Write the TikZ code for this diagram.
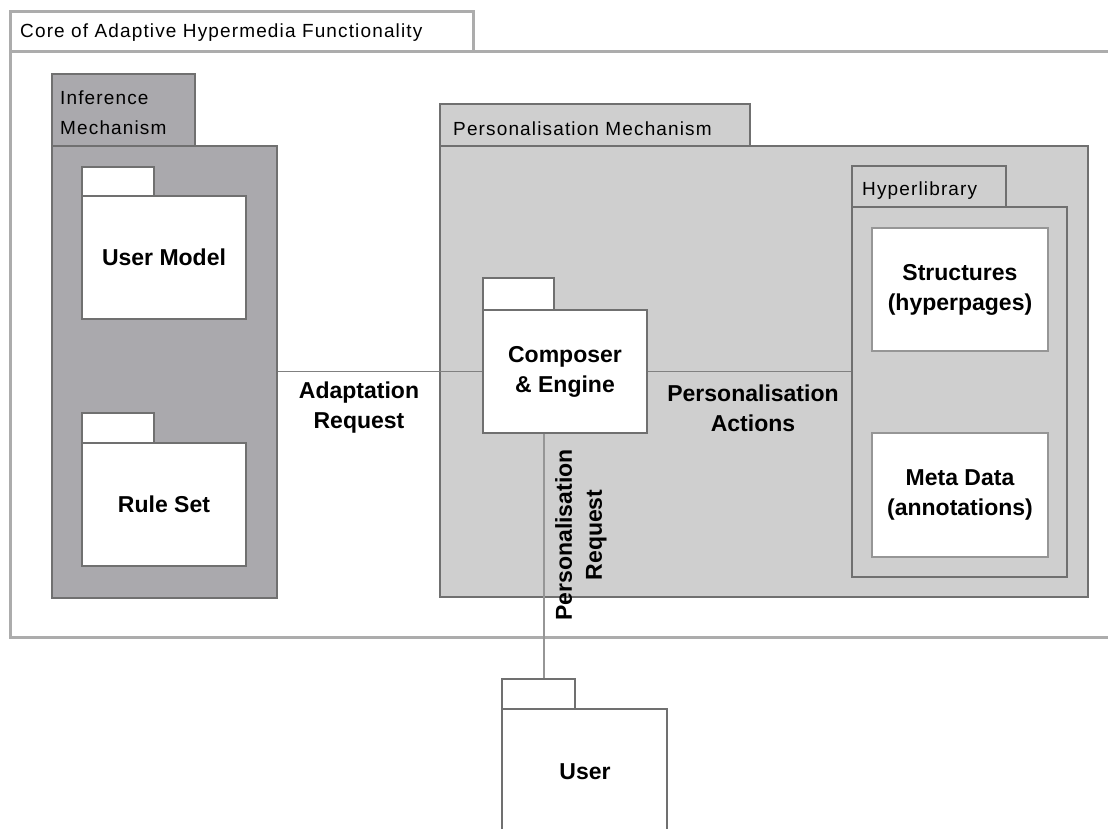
\documentclass[tikz,border=0pt]{standalone}
\usepackage{fontspec}
\setmainfont{Liberation Sans}
\newfontfamily\tabfont[LetterSpace=6]{Liberation Sans}
\usetikzlibrary{calc}
\definecolor{lineC}{RGB}{112,112,112}
\definecolor{outerC}{RGB}{172,172,172}
\definecolor{infC}{RGB}{170,169,173}
\definecolor{persC}{RGB}{207,207,207}
\definecolor{lightC}{RGB}{150,150,150}
\definecolor{connC}{RGB}{128,128,128}
\tikzset{
  pbox/.style={draw=lineC, line width=1.4pt, rectangle, inner sep=0pt, fill=white},
  innerbox/.style={draw=lightC, line width=2pt, rectangle, inner sep=0pt, fill=white},
  tablabel/.style={font=\tabfont\fontsize{19}{30}\selectfont, inner sep=0pt, align=left, anchor=west},
  biglabel/.style={font=\fontsize{23}{30}\selectfont\bfseries, inner sep=0pt, align=center},
  conn/.style={draw=connC, line width=1.6pt},
  vconn/.style={draw=lightC, line width=2.4pt},
}
\begin{document}
\begin{tikzpicture}[x=1pt,y=-1pt]
\clip (0,0) rectangle (1108,829);
\fill[white] (0,0) rectangle (1108,829);
% outer package
\node[draw=outerC, line width=3pt, rectangle, inner sep=0pt, minimum width=463pt, minimum height=40pt] (outt) at (241.5,32) {};
\node[draw=outerC, line width=3pt, rectangle, inner sep=0pt, minimum width=1120pt, minimum height=585pt] (outb) at (570,344.5) {};
\node[tablabel] (outl) at (20,33) {Core of Adaptive Hypermedia Functionality};
% inference mechanism
\node[pbox, fill=infC, minimum width=143pt, minimum height=72pt] (inft) at (123.5,110) {};
\node[pbox, fill=infC, minimum width=225pt, minimum height=452pt] (infb) at (164.5,372) {};
\node[tablabel] (infl) at (60,113) {Inference\\Mechanism};
% user model
\node[pbox, minimum width=72pt, minimum height=29pt] (umt) at (118,181.5) {};
\node[pbox, minimum width=164pt, minimum height=123pt] (umb) at (164,257.5) {};
\node[biglabel] (uml) at (umb) {User Model};
% rule set
\node[pbox, minimum width=72pt, minimum height=30pt] (rst) at (118,428) {};
\node[pbox, minimum width=164pt, minimum height=123pt] (rsb) at (164,504.5) {};
\node[biglabel] (rsl) at (rsb) {Rule Set};
% personalisation mechanism
\node[pbox, fill=persC, minimum width=310pt, minimum height=42pt] (pmt) at (595,125) {};
\node[pbox, fill=persC, minimum width=648pt, minimum height=451pt] (pmb) at (764,371.5) {};
\node[tablabel] (pml) at (453,129) {Personalisation Mechanism};
% hyperlibrary
\node[pbox, fill=persC, minimum width=154pt, minimum height=41pt] (hlt) at (929,186.5) {};
\node[pbox, fill=persC, minimum width=215pt, minimum height=370pt] (hlb) at (959.5,392) {};
\node[tablabel] (hll) at (862,191) {Hyperlibrary};
\node[innerbox, minimum width=176pt, minimum height=123pt] (stb) at (960,289.5) {};
\node[biglabel] (stl) at (stb) {Structures\\(hyperpages)};
\node[innerbox, minimum width=176pt, minimum height=124pt] (mdb) at (960,495) {};
\node[biglabel] (mdl) at (mdb) {Meta Data\\(annotations)};
% composer
\node[pbox, minimum width=71pt, minimum height=32pt] (cpt) at (518.5,294) {};
\node[pbox, minimum width=164pt, minimum height=123pt] (cpb) at (565,371.5) {};
\node[biglabel] (cpl) at (cpb) {Composer\\\& Engine};
% user
\node[pbox, minimum width=73pt, minimum height=30pt] (ust) at (538.5,694) {};
\node[pbox, minimum width=165pt, minimum height=140pt] (usb) at (584.5,779) {};
\node[biglabel] (usl) at (585,772) {User};
% connectors
\draw[conn] (cpb.west) -- (cpb.west -| infb.east);
\draw[conn] (cpb.east) -- (cpb.east -| hlb.west);
\coordinate (vtop) at ($(cpb.south west)!0.372!(cpb.south east)$);
\draw[vconn] (vtop) -- (vtop |- ust.north);
% connector labels
\node[biglabel] (arl) at (359,408) {Adaptation\\Request};
\node[biglabel] (pal) at (753,408) {Personalisation\\Actions};
\node[biglabel, rotate=90] (prl) at (581,535) {Personalisation\\Request};
\end{tikzpicture}
\end{document}
